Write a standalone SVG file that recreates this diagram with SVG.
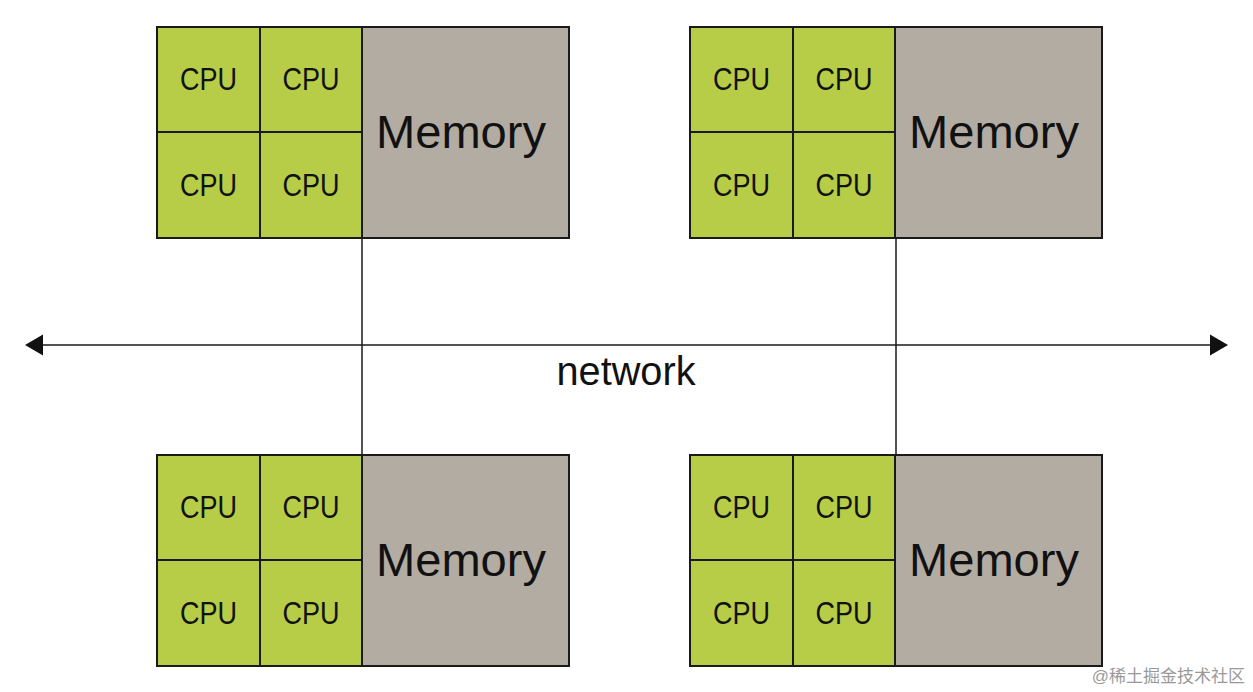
<svg xmlns="http://www.w3.org/2000/svg" width="1253" height="692" viewBox="0 0 1253 692">
<style>
.cpu{fill:#b7cd47;stroke:#1a1a1a;stroke-width:2}
.mem{fill:#b3aca3;stroke:#1a1a1a;stroke-width:2}
.ct{font-family:"Liberation Sans",Arial,sans-serif;font-size:31px;fill:#111;text-anchor:middle}
.mt{font-family:"Liberation Sans",Arial,sans-serif;font-size:46px;fill:#111}
.ln{stroke:#1a1a1a;stroke-width:1.5;fill:none}
</style>
<defs>
<g id="node">
<rect class="cpu" x="0" y="0" width="103" height="105"/>
<rect class="cpu" x="103" y="0" width="102" height="105"/>
<rect class="cpu" x="0" y="105" width="103" height="106"/>
<rect class="cpu" x="103" y="105" width="102" height="106"/>
<rect class="mem" x="205" y="0" width="207" height="211"/>
<text class="ct" x="51.5" y="63" textLength="57" lengthAdjust="spacingAndGlyphs">CPU</text>
<text class="ct" x="154" y="63" textLength="57" lengthAdjust="spacingAndGlyphs">CPU</text>
<text class="ct" x="51.5" y="169" textLength="57" lengthAdjust="spacingAndGlyphs">CPU</text>
<text class="ct" x="154" y="169" textLength="57" lengthAdjust="spacingAndGlyphs">CPU</text>
<text class="mt" x="219" y="121" textLength="170" lengthAdjust="spacingAndGlyphs">Memory</text>
</g>
</defs>
<rect width="1253" height="692" fill="#fff"/>
<g id="connectors">
<line class="ln" x1="362" y1="238" x2="362" y2="455"/>
<line class="ln" x1="896" y1="238" x2="896" y2="455"/>
<line class="ln" x1="42" y1="345" x2="1211" y2="345"/>
<polygon points="25,345 43,334.5 43,355.5" fill="#111"/>
<polygon points="1228,345 1210,334.5 1210,355.5" fill="#111"/>
<text x="626" y="385" font-family="'Liberation Sans',Arial,sans-serif" font-size="40" fill="#111" text-anchor="middle" textLength="139" lengthAdjust="spacingAndGlyphs">network</text>
</g>
<g id="node-top-left" transform="translate(157,27)"><use href="#node"/></g>
<g id="node-top-right" transform="translate(690,27)"><use href="#node"/></g>
<g id="node-bottom-left" transform="translate(157,455)"><use href="#node"/></g>
<g id="node-bottom-right" transform="translate(690,455)"><use href="#node"/></g>
<text x="1245" y="682" font-family="'Liberation Sans','Noto Sans CJK SC',sans-serif" font-size="17" fill="#999" text-anchor="end">@稀土掘金技术社区</text>
</svg>
